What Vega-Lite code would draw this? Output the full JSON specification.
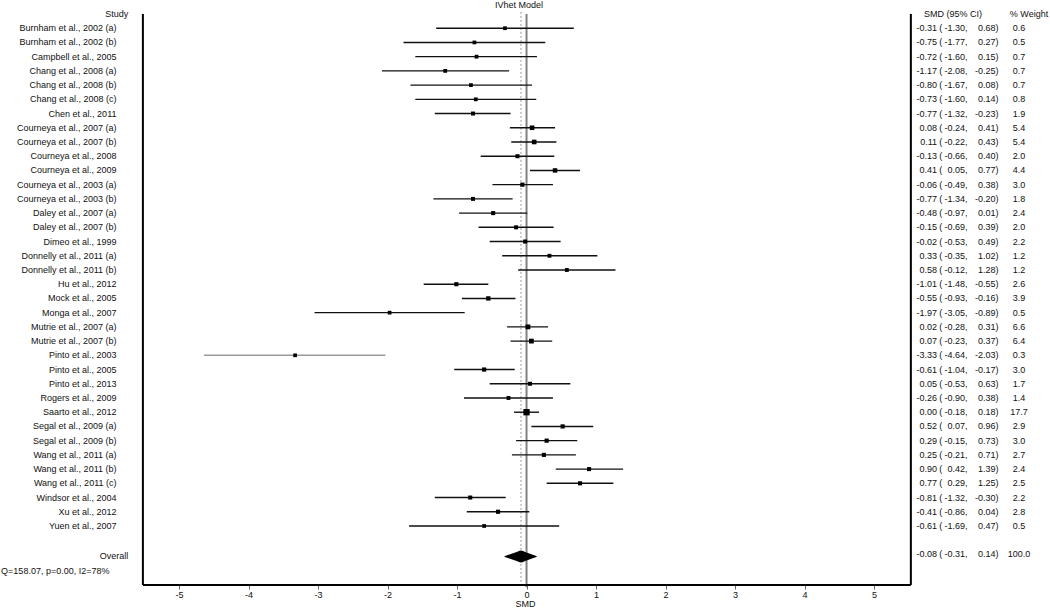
{
  "$schema": "https://vega.github.io/schema/vega-lite/v6.json",
  "width": 1050,
  "height": 585,
  "autosize": {"type": "none"},
  "padding": {"left": 0, "top": 0, "right": 0, "bottom": 24},
  "background": "white",
  "config": {
    "locale": {"number": {"decimal": ".", "thousands": ",", "grouping": [3], "currency": ["$", ""], "minus": "-"}},
    "view": {"stroke": null},
    "text": {"font": "Liberation Sans", "fontSize": 9, "fill": "#111111", "baseline": "middle"},
    "axis": {"labelFont": "Liberation Sans", "titleFont": "Liberation Sans", "labelFontSize": 9, "titleFontSize": 9, "titleFontWeight": "normal", "labelColor": "#111111", "titleColor": "#111111", "tickColor": "#666", "tickSize": 4, "grid": false, "domain": false, "labelPadding": 1, "titlePadding": 0}
  },
  "datasets": {
    "rows": [
      {"row": 1, "study": "Burnham et al., 2002 (a)", "est": -0.31, "lo": -1.30, "hi": 0.68, "weight": 0.6},
      {"row": 2, "study": "Burnham et al., 2002 (b)", "est": -0.75, "lo": -1.77, "hi": 0.27, "weight": 0.5},
      {"row": 3, "study": "Campbell et al., 2005", "est": -0.72, "lo": -1.60, "hi": 0.15, "weight": 0.7},
      {"row": 4, "study": "Chang et al., 2008 (a)", "est": -1.17, "lo": -2.08, "hi": -0.25, "weight": 0.7},
      {"row": 5, "study": "Chang et al., 2008 (b)", "est": -0.80, "lo": -1.67, "hi": 0.08, "weight": 0.7},
      {"row": 6, "study": "Chang et al., 2008 (c)", "est": -0.73, "lo": -1.60, "hi": 0.14, "weight": 0.8},
      {"row": 7, "study": "Chen et al., 2011", "est": -0.77, "lo": -1.32, "hi": -0.23, "weight": 1.9},
      {"row": 8, "study": "Courneya et al., 2007 (a)", "est": 0.08, "lo": -0.24, "hi": 0.41, "weight": 5.4},
      {"row": 9, "study": "Courneya et al., 2007 (b)", "est": 0.11, "lo": -0.22, "hi": 0.43, "weight": 5.4},
      {"row": 10, "study": "Courneya et al., 2008", "est": -0.13, "lo": -0.66, "hi": 0.40, "weight": 2.0},
      {"row": 11, "study": "Courneya et al., 2009", "est": 0.41, "lo": 0.05, "hi": 0.77, "weight": 4.4},
      {"row": 12, "study": "Courneya et al., 2003 (a)", "est": -0.06, "lo": -0.49, "hi": 0.38, "weight": 3.0},
      {"row": 13, "study": "Courneya et al., 2003 (b)", "est": -0.77, "lo": -1.34, "hi": -0.20, "weight": 1.8},
      {"row": 14, "study": "Daley et al., 2007 (a)", "est": -0.48, "lo": -0.97, "hi": 0.01, "weight": 2.4},
      {"row": 15, "study": "Daley et al., 2007 (b)", "est": -0.15, "lo": -0.69, "hi": 0.39, "weight": 2.0},
      {"row": 16, "study": "Dimeo et al., 1999", "est": -0.02, "lo": -0.53, "hi": 0.49, "weight": 2.2},
      {"row": 17, "study": "Donnelly et al., 2011 (a)", "est": 0.33, "lo": -0.35, "hi": 1.02, "weight": 1.2},
      {"row": 18, "study": "Donnelly et al., 2011 (b)", "est": 0.58, "lo": -0.12, "hi": 1.28, "weight": 1.2},
      {"row": 19, "study": "Hu et al., 2012", "est": -1.01, "lo": -1.48, "hi": -0.55, "weight": 2.6},
      {"row": 20, "study": "Mock et al., 2005", "est": -0.55, "lo": -0.93, "hi": -0.16, "weight": 3.9},
      {"row": 21, "study": "Monga et al., 2007", "est": -1.97, "lo": -3.05, "hi": -0.89, "weight": 0.5},
      {"row": 22, "study": "Mutrie et al., 2007 (a)", "est": 0.02, "lo": -0.28, "hi": 0.31, "weight": 6.6},
      {"row": 23, "study": "Mutrie et al., 2007 (b)", "est": 0.07, "lo": -0.23, "hi": 0.37, "weight": 6.4},
      {"row": 24, "study": "Pinto et al., 2003", "est": -3.33, "lo": -4.64, "hi": -2.03, "weight": 0.3},
      {"row": 25, "study": "Pinto et al., 2005", "est": -0.61, "lo": -1.04, "hi": -0.17, "weight": 3.0},
      {"row": 26, "study": "Pinto et al., 2013", "est": 0.05, "lo": -0.53, "hi": 0.63, "weight": 1.7},
      {"row": 27, "study": "Rogers et al., 2009", "est": -0.26, "lo": -0.90, "hi": 0.38, "weight": 1.4},
      {"row": 28, "study": "Saarto et al., 2012", "est": 0.00, "lo": -0.18, "hi": 0.18, "weight": 17.7},
      {"row": 29, "study": "Segal et al., 2009 (a)", "est": 0.52, "lo": 0.07, "hi": 0.96, "weight": 2.9},
      {"row": 30, "study": "Segal et al., 2009 (b)", "est": 0.29, "lo": -0.15, "hi": 0.73, "weight": 3.0},
      {"row": 31, "study": "Wang et al., 2011 (a)", "est": 0.25, "lo": -0.21, "hi": 0.71, "weight": 2.7},
      {"row": 32, "study": "Wang et al., 2011 (b)", "est": 0.90, "lo": 0.42, "hi": 1.39, "weight": 2.4},
      {"row": 33, "study": "Wang et al., 2011 (c)", "est": 0.77, "lo": 0.29, "hi": 1.25, "weight": 2.5},
      {"row": 34, "study": "Windsor et al., 2004", "est": -0.81, "lo": -1.32, "hi": -0.30, "weight": 2.2},
      {"row": 35, "study": "Xu et al., 2012", "est": -0.41, "lo": -0.86, "hi": 0.04, "weight": 2.8},
      {"row": 36, "study": "Yuen et al., 2007", "est": -0.61, "lo": -1.69, "hi": 0.47, "weight": 0.5},
      {"row": 38, "study": "Overall", "est": -0.08, "lo": -0.31, "hi": 0.14, "weight": 100.0}
    ],
    "diamond": [
      {"x": -0.31, "w": 0},
      {"x": -0.08, "w": 1},
      {"x": 0.14, "w": 0}
    ],
    "one": [{}]
  },
  "data": {"name": "rows"},
  "resolve": {"scale": {"size": "independent"}},
  "layer": [
    {
      "transform": [{"filter": "datum.row === 38"}],
      "mark": {"type": "rule", "stroke": "#9a9a9a", "strokeWidth": 1, "strokeDash": [2, 2]},
      "encoding": {
        "x": {"field": "est", "type": "quantitative", "scale": {"domain": [-7.576, 7.532], "nice": false, "zero": false}, "axis": {"values": [-5, -4, -3, -2, -1, 0, 1, 2, 3, 4, 5], "format": "d", "title": "SMD"}},
        "y": {"datum": -0.15, "type": "quantitative", "scale": {"domain": [-0.984, 40.15], "nice": false, "zero": false, "reverse": true}, "axis": null},
        "y2": {"datum": 40.15}
      }
    },
    {
      "data": {"name": "one"},
      "mark": {"type": "rule", "stroke": "#808080", "strokeWidth": 2},
      "encoding": {
        "x": {"datum": 0, "type": "quantitative"},
        "y": {"datum": 0, "type": "quantitative", "axis": null},
        "y2": {"datum": 40.3}
      }
    },
    {
      "transform": [{"filter": "datum.row < 37"}],
      "mark": {"type": "rule", "strokeWidth": 1.4},
      "encoding": {
        "x": {"field": "lo", "type": "quantitative"},
        "x2": {"field": "hi"},
        "y": {"field": "row", "type": "quantitative", "axis": null},
        "stroke": {"condition": {"test": "datum.study === 'Pinto et al., 2003'", "value": "#9a9a9a"}, "value": "#111111"}
      }
    },
    {
      "transform": [{"filter": "datum.row < 37"}],
      "mark": {"type": "point", "shape": "square", "filled": true, "color": "#000000", "opacity": 1, "strokeWidth": 0},
      "encoding": {
        "x": {"field": "est", "type": "quantitative"},
        "y": {"field": "row", "type": "quantitative", "axis": null},
        "size": {"field": "weight", "type": "quantitative", "scale": {"domain": [0, 17.7], "range": [13, 40]}, "legend": null}
      }
    },
    {
      "data": {"name": "diamond"},
      "mark": {"type": "trail", "color": "#000000"},
      "encoding": {
        "x": {"field": "x", "type": "quantitative"},
        "y": {"datum": 38.15, "type": "quantitative", "axis": null},
        "size": {"field": "w", "type": "quantitative", "scale": {"domain": [0, 1], "range": [0, 12]}, "legend": null}
      }
    },
    {
      "transform": [{"filter": "datum.row < 37"}],
      "mark": {"type": "text", "align": "right"},
      "encoding": {
        "x": {"datum": -5.9, "type": "quantitative"},
        "y": {"field": "row", "type": "quantitative", "axis": null},
        "text": {"field": "study"}
      }
    },
    {
      "transform": [{"filter": "datum.row === 38"}],
      "mark": {"type": "text", "align": "right", "dy": 2},
      "encoding": {
        "x": {"datum": -5.73, "type": "quantitative"},
        "y": {"field": "row", "type": "quantitative", "axis": null},
        "text": {"field": "study"}
      }
    },
    {
      "mark": {"type": "text", "align": "right"},
      "encoding": {
        "x": {"datum": 5.906, "type": "quantitative"},
        "y": {"field": "row", "type": "quantitative", "axis": null},
        "text": {"field": "est", "format": ".2f"}
      }
    },
    {
      "mark": {"type": "text", "align": "left", "text": "("},
      "encoding": {
        "x": {"datum": 5.94, "type": "quantitative"},
        "y": {"field": "row", "type": "quantitative", "axis": null}
      }
    },
    {
      "mark": {"type": "text", "align": "right"},
      "encoding": {
        "x": {"datum": 6.309, "type": "quantitative"},
        "y": {"field": "row", "type": "quantitative", "axis": null},
        "text": {"field": "lo", "format": ".2f"}
      }
    },
    {
      "mark": {"type": "text", "align": "left", "text": ","},
      "encoding": {
        "x": {"datum": 6.309, "type": "quantitative"},
        "y": {"field": "row", "type": "quantitative", "axis": null}
      }
    },
    {
      "mark": {"type": "text", "align": "right"},
      "encoding": {
        "x": {"datum": 6.748, "type": "quantitative"},
        "y": {"field": "row", "type": "quantitative", "axis": null},
        "text": {"field": "hi", "format": ".2f"}
      }
    },
    {
      "mark": {"type": "text", "align": "left", "text": ")"},
      "encoding": {
        "x": {"datum": 6.748, "type": "quantitative"},
        "y": {"field": "row", "type": "quantitative", "axis": null}
      }
    },
    {
      "mark": {"type": "text", "align": "center"},
      "encoding": {
        "x": {"datum": 7.086, "type": "quantitative"},
        "y": {"field": "row", "type": "quantitative", "axis": null},
        "text": {"field": "weight", "format": ".1f"}
      }
    },
    {
      "data": {"name": "one"},
      "mark": {"type": "text", "align": "right", "text": "Study"},
      "encoding": {
        "x": {"datum": -5.73, "type": "quantitative"},
        "y": {"datum": 0, "type": "quantitative", "axis": null}
      }
    },
    {
      "data": {"name": "one"},
      "mark": {"type": "text", "align": "center", "text": "SMD (95% CI)"},
      "encoding": {
        "x": {"datum": 6.137, "type": "quantitative"},
        "y": {"datum": 0, "type": "quantitative", "axis": null}
      }
    },
    {
      "data": {"name": "one"},
      "mark": {"type": "text", "align": "center", "text": "% Weight"},
      "encoding": {
        "x": {"datum": 7.23, "type": "quantitative"},
        "y": {"datum": 0, "type": "quantitative", "axis": null}
      }
    },
    {
      "data": {"name": "one"},
      "mark": {"type": "text", "align": "center", "text": "IVhet Model"},
      "encoding": {
        "x": {"datum": -0.108, "type": "quantitative"},
        "y": {"datum": -0.6, "type": "quantitative", "axis": null}
      }
    },
    {
      "data": {"name": "one"},
      "mark": {"type": "text", "align": "left", "text": "Q=158.07, p=0.00, I2=78%"},
      "encoding": {
        "x": {"datum": -7.56, "type": "quantitative"},
        "y": {"datum": 39.2, "type": "quantitative", "axis": null}
      }
    },
    {
      "data": {"name": "one"},
      "mark": {"type": "rule", "stroke": "#000000", "strokeWidth": 2},
      "encoding": {
        "x": {"datum": -5.52, "type": "quantitative"},
        "y": {"datum": 0, "type": "quantitative", "axis": null},
        "y2": {"datum": 40.15}
      }
    },
    {
      "data": {"name": "one"},
      "mark": {"type": "rule", "stroke": "#000000", "strokeWidth": 2},
      "encoding": {
        "x": {"datum": 5.53, "type": "quantitative"},
        "y": {"datum": 0, "type": "quantitative", "axis": null},
        "y2": {"datum": 40.15}
      }
    },
    {
      "data": {"name": "one"},
      "mark": {"type": "rule", "stroke": "#000000", "strokeWidth": 2},
      "encoding": {
        "x": {"datum": -5.52, "type": "quantitative"},
        "x2": {"datum": 5.53},
        "y": {"datum": 40.15, "type": "quantitative", "axis": null}
      }
    }
  ]
}
